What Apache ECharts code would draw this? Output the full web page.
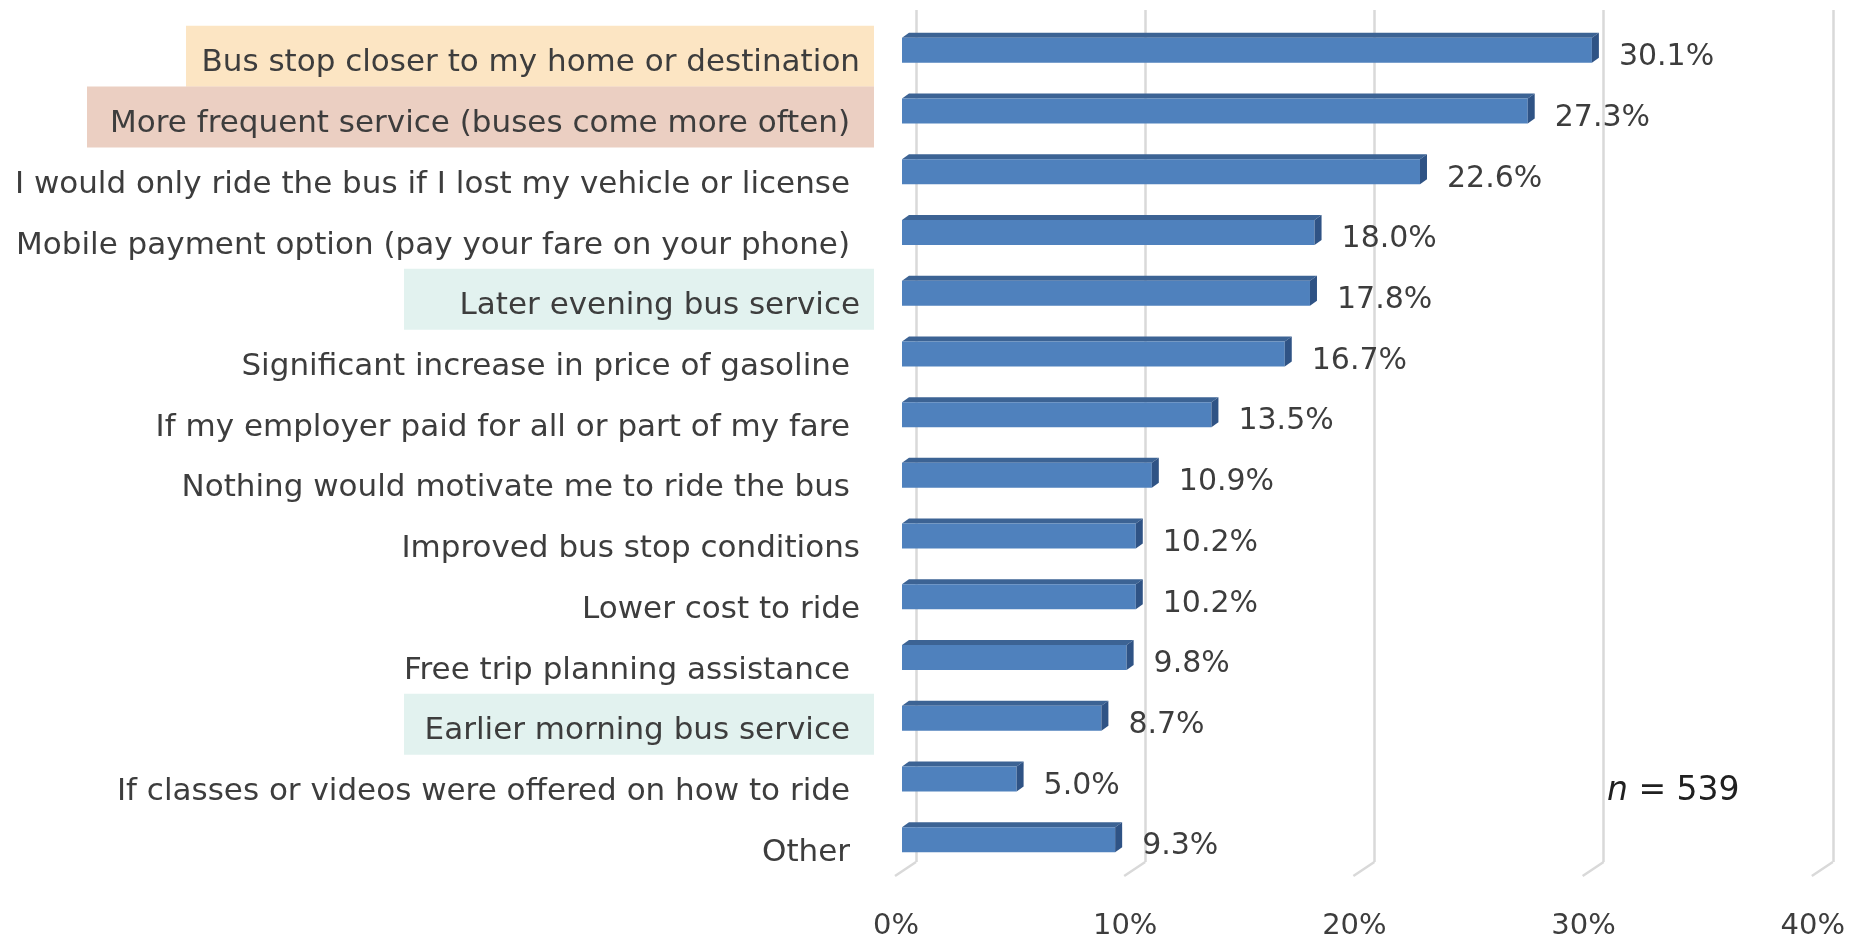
<!DOCTYPE html>
<html>
<head>
<meta charset="utf-8">
<script src="https://cdn.jsdelivr.net/npm/echarts@6/dist/echarts.min.js"></script>
<style>
html,body{margin:0;padding:0;background:#fff;}
#chart{width:1860px;height:942px;}
</style>
</head>
<body>
<div id="chart"></div>
<script>
// ---- data ----
const categories = [
  'Bus stop closer to my home or destination',
  'More frequent service (buses come more often)',
  'I would only ride the bus if I lost my vehicle or license',
  'Mobile payment option (pay your fare on your phone)',
  'Later evening bus service',
  'Significant increase in price of gasoline',
  'If my employer paid for all or part of my fare',
  'Nothing would motivate me to ride the bus',
  'Improved bus stop conditions',
  'Lower cost to ride',
  'Free trip planning assistance',
  'Earlier morning bus service',
  'If classes or videos were offered on how to ride',
  'Other'
];
const values = [30.1, 27.3, 22.6, 18.0, 17.8, 16.7, 13.5, 10.9, 10.2, 10.2, 9.8, 8.7, 5.0, 9.3];
const labelStyles = ['peach','rose','plain','plain','tealA','plain','plain','plain','plainA','plainA','plain','tealB','plain','plain'];
const xTicks = [0, 10, 20, 30, 40];
const sampleNote = 'n = 539';

// ---- styles ----
const FONT = '"DejaVu Sans", "Open Sans", sans-serif';
const TXT = '#3d3d3d';
const labelFont = 31;
function richBox(bg, width, padR) {
  const s = {fontFamily: FONT, fontSize: labelFont, color: TXT, align: 'right',
    height: 47, padding: [14, padR, 0, 0]};
  if (bg) { s.backgroundColor = bg; s.width = width; }
  return s;
}
const rich = {
  peach: richBox('#FCE5C3', 674, 14),
  rose: richBox('#EBCFC2', 763, 24),
  tealA: richBox('#E2F2EF', 456, 14),
  tealB: richBox('#E2F2EF', 446, 24),
  plain: richBox(null, 0, 24),
  plainA: richBox(null, 0, 14)
};

const chart = echarts.init(document.getElementById('chart'), null, {renderer: 'canvas'});

const barData = values.map((v, i) => [v, categories[i]]);

const option = {
  backgroundColor: '#ffffff',
  animation: false,
  grid: [
    {left: 902, width: 916.8, top: 20, height: 850},
    {left: 916, width: 916.8, top: 10, height: 852}
  ],
  xAxis: [
    {gridIndex: 0, type: 'value', min: 0, max: 40, interval: 10,
      axisLine: {show: false}, axisTick: {show: false}, splitLine: {show: false},
      axisLabel: {formatter: '{value}%', fontFamily: FONT, fontSize: 29, color: TXT, margin: 42,
        padding: [0, 12, 0, 0]}},
    {gridIndex: 1, type: 'value', min: 0, max: 40, interval: 10,
      axisLine: {show: false}, axisTick: {show: false}, axisLabel: {show: false},
      splitLine: {show: true, lineStyle: {color: '#D9D9D9', width: 2.5}}}
  ],
  yAxis: [
    {gridIndex: 0, type: 'category', data: categories, inverse: true,
      axisLine: {show: false}, axisTick: {show: false}, splitLine: {show: false},
      axisLabel: {interval: 0, margin: 28, padding: [12, 0, 0, 0],
        formatter: (val, idx) => '{' + labelStyles[idx] + '|' + val + '}', rich: rich}},
    {gridIndex: 1, type: 'value', min: 0, max: 1, show: false}
  ],
  series: [
    {
      type: 'custom', xAxisIndex: 1, yAxisIndex: 1, silent: true, z: 1,
      data: xTicks.map(t => [t, 0]),
      renderItem: function (params, api) {
        const p = api.coord([api.value(0), 0]);
        return {type: 'line', shape: {x1: p[0], y1: p[1], x2: p[0] - 21, y2: p[1] + 14},
          style: {stroke: '#D9D9D9', lineWidth: 2.5}};
      }
    },
    {
      type: 'custom', xAxisIndex: 0, yAxisIndex: 0, silent: true, z: 5,
      encode: {x: 0, y: 1},
      data: barData,
      renderItem: function (params, api) {
        const v = api.value(0);
        const c = api.value(1);
        const s = api.coord([0, c]);
        const e = api.coord([v, c]);
        const h = 25, dx = 7, dy = 5;
        const x0 = s[0], xe = e[0];
        const yt = e[1] - h / 2, yb = e[1] + h / 2;
        return {type: 'group', children: [
          {type: 'polygon', shape: {points: [[x0, yt], [xe, yt], [xe + dx, yt - dy], [x0 + dx, yt - dy]]},
            style: {fill: '#3C6394'}},
          {type: 'rect', shape: {x: x0, y: yt, width: xe - x0, height: h},
            style: {fill: '#4F81BD'}},
          {type: 'polygon', shape: {points: [[xe, yt], [xe + dx, yt - dy], [xe + dx, yb - dy], [xe, yb]]},
            style: {fill: '#2F5385'}},
          {type: 'text', x: xe + 27, y: e[1] + 7,
            style: {text: v.toFixed(1) + '%', fontFamily: FONT, fontSize: 30, fill: TXT,
              align: 'left', verticalAlign: 'middle'}}
        ]};
      }
    }
  ],
  graphic: [
    {type: 'text', left: 1607, top: 775,
      style: {text: sampleNote.replace(/^n/, '{i|n}'),
        rich: {i: {fontStyle: 'italic', fontFamily: FONT, fontSize: 33, fill: '#202020'}},
        fontFamily: FONT, fontSize: 33, fill: '#202020'}}
  ]
};
chart.setOption(option);
</script>
</body>
</html>
